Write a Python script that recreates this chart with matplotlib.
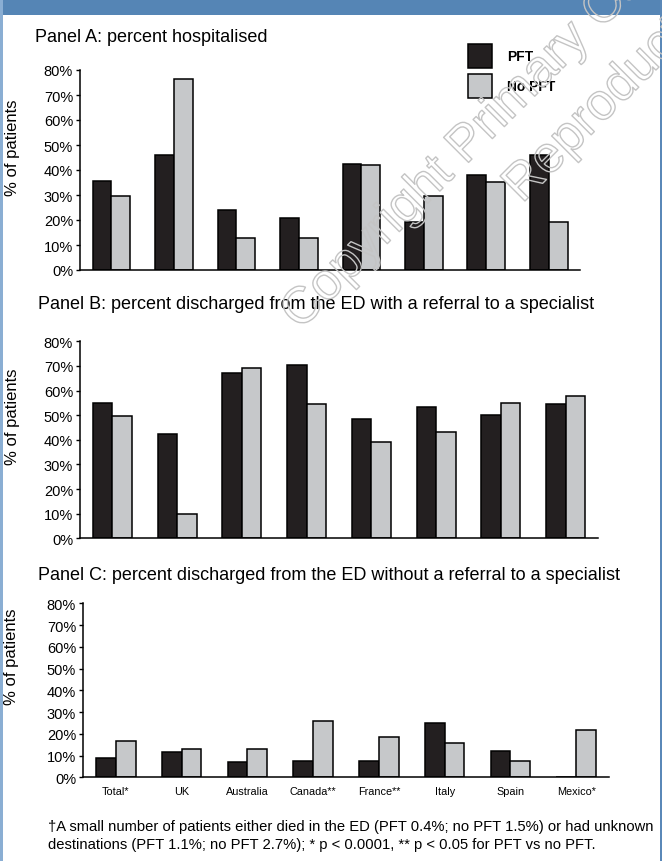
import numpy as np
import matplotlib
matplotlib.use("Agg")
import matplotlib.pyplot as plt
from matplotlib.patches import Rectangle
import matplotlib.patheffects as pe

# data (percent of patients)
countries = ["Total*", "UK", "Australia", "Canada**", "France**", "Italy", "Spain", "Mexico*"]
hosp_pft = [35.5, 46.1, 24.1, 20.8, 42.5, 19.1, 38.1, 46.1]
hosp_nopft = [29.6, 76.4, 12.7, 12.9, 42.0, 29.5, 35.3, 19.3]
ref_pft = [54.8, 42.5, 67.0, 70.4, 48.4, 53.2, 50.1, 54.4]
ref_nopft = [49.5, 10.0, 69.1, 54.5, 39.2, 43.0, 54.9, 57.8]
noref_pft = [8.9, 11.6, 7.0, 7.6, 7.4, 25.1, 12.0, 0.0]
noref_nopft = [16.7, 12.9, 12.9, 26.0, 18.7, 15.9, 7.6, 21.7]
yticks = [0, 10, 20, 30, 40, 50, 60, 70, 80]
yticklabels = ["0%", "10%", "20%", "30%", "40%", "50%", "60%", "70%", "80%"]
series_names = ["PFT", "No PFT"]

titles = ["Panel A: percent hospitalised",
          "Panel B: percent discharged from the ED with a referral to a specialist",
          "Panel C: percent discharged from the ED without a referral to a specialist"]
footnote = ("\u2020A small number of patients either died in the ED (PFT 0.4%; no PFT 1.5%) or had unknown\n"
            "destinations (PFT 1.1%; no PFT 2.7%); * p < 0.0001, ** p < 0.05 for PFT vs no PFT.")

dark = "#231f20"
light = "#c6c8ca"
font = "Liberation Sans"
plt.rcParams["font.family"] = [font, "DejaVu Sans"]

W, H = 662, 862
fig = plt.figure(figsize=(W / 100, H / 100), dpi=100)

def px_axes(x0, x1, ytop, ybot):
    return fig.add_axes([x0 / W, 1 - ybot / H, (x1 - x0) / W, (ybot - ytop) / H])

# header band and side borders
fig.add_artist(Rectangle((0, 1 - 16 / H), 1, 16 / H, transform=fig.transFigure, color="#5585b5", lw=0))
fig.add_artist(Rectangle((0, 0), 2.5 / W, 1, transform=fig.transFigure, color="#8aaed3", lw=0))
fig.add_artist(Rectangle((660 / W, 0), 2 / W, 1, transform=fig.transFigure, color="#5a88b8", lw=0))

ax1 = px_axes(80, 580, 71, 271)
ax2 = px_axes(80, 598, 342.3, 539.3)
ax3 = px_axes(83, 609, 604.3, 778.3)
axes = [ax1, ax2, ax3]
pft_data = [hosp_pft, ref_pft, noref_pft]
nopft_data = [hosp_nopft, ref_nopft, noref_nopft]
label_pos = [(-0.12, 0.615), (-0.116, 0.62), (-0.122, 0.70)]

x = np.arange(len(countries))
w = 0.3
for i, ax in enumerate(axes):
    ax.bar(x - w / 2, pft_data[i], w, color=dark, edgecolor="black", lw=1.1, label=series_names[0], zorder=2)
    ax.bar(x + w / 2, nopft_data[i], w, color=light, edgecolor="black", lw=1.1, label=series_names[1], zorder=2)
    ax.set_xlim(-0.5, len(countries) - 0.5)
    ax.set_ylim(0, 80)
    ax.set_yticks(yticks)
    ax.set_yticklabels(yticklabels, fontsize=10.5)
    ax.spines["top"].set_visible(False)
    ax.spines["right"].set_visible(False)
    ax.spines["left"].set_linewidth(1.1)
    ax.spines["bottom"].set_linewidth(1.1)
    ax.tick_params(axis="y", direction="out", length=3, width=1.0, pad=2)
    ax.tick_params(axis="x", length=0, pad=6)
    ax.set_ylabel("% of patients", fontsize=12)
    ax.yaxis.set_label_coords(*label_pos[i])
    ax.patch.set_alpha(0)
    if i < 2:
        ax.set_xticks([])
    else:
        ax.set_xticks(x)
        ax.set_xticklabels(countries, fontsize=7.8)

# panel titles
fig.text(35 / W, 1 - 38 / H, titles[0], fontsize=13, va="center", ha="left")
fig.text(38 / W, 1 - 305 / H, titles[1], fontsize=13, va="center", ha="left")
fig.text(38 / W, 1 - 575 / H, titles[2], fontsize=13, va="center", ha="left")

# legend
ax1.legend(loc="upper left", bbox_to_anchor=(468 / W, 1 - 45 / H), bbox_transform=fig.transFigure,
           frameon=False, borderpad=0, borderaxespad=0, handlelength=1.73, handleheight=2.28,
           labelspacing=0.4, handletextpad=1.08, prop={"size": 10, "weight": "bold"})

# footnote
fig.text(48 / W, 1 - 836 / H, footnote, fontsize=10.6, va="center", ha="left", linespacing=1.3)

# watermark, outline only
wm = [pe.Stroke(linewidth=1.0, foreground="#c4c4c4")]
fig.text(300 / W, 1 - 332 / H, "Copyright Primary Care", fontsize=37, rotation=45, rotation_mode="anchor",
         ha="left", va="baseline", color="none", path_effects=wm, zorder=10)
fig.text(522 / W, 1 - 205 / H, "Reproduction prohibited", fontsize=37, rotation=45, rotation_mode="anchor",
         ha="left", va="baseline", color="none", path_effects=wm, zorder=10)

plt.savefig("out.png", dpi=100)
